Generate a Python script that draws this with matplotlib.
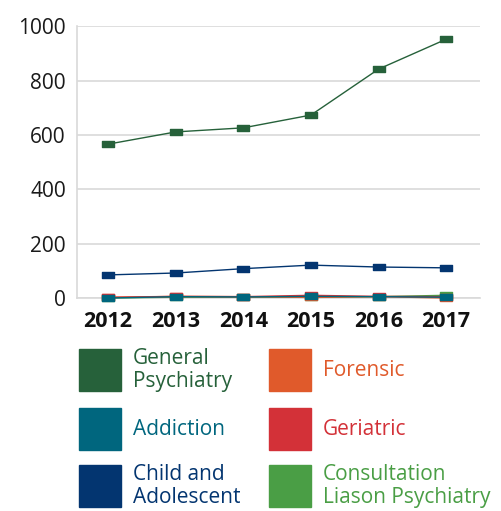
import numpy as np
import matplotlib
matplotlib.use('Agg')
import matplotlib.pyplot as plt
from matplotlib.path import Path
from matplotlib.patches import Rectangle

plt.rcParams['font.family'] = ['Open Sans', 'DejaVu Sans']

years = ['2012', '2013', '2014', '2015', '2016', '2017']
general = [566, 611, 626, 673, 842, 952]
child = [85, 92, 108, 121, 114, 111]
forensic = [3, 6, 5, 2, 5, 0]
geriatric = [2, 6, 5, 10, 6, 5]
consultation = [0, 3, 3, 3, 5, 10]
addiction = [0, 5, 4, 6, 5, 3]

colors = {
    'general': '#26613a',
    'forensic': '#e05a2b',
    'addiction': '#00667e',
    'geriatric': '#d33138',
    'child': '#033570',
    'consultation': '#4a9e45',
}

# wide rectangular marker
rect = Path([(-1, -0.55), (1, -0.55), (1, 0.55), (-1, 0.55), (-1, -0.55)],
            [Path.MOVETO, Path.LINETO, Path.LINETO, Path.LINETO, Path.CLOSEPOLY])

fig = plt.figure(figsize=(5.02, 5.11), dpi=100)
ax = fig.add_axes([0.1534, 0.4168, 0.8027, 0.532])
x = np.arange(len(years))

series = [
    (general, 'general'),
    (child, 'child'),
    (consultation, 'consultation'),
    (forensic, 'forensic'),
    (geriatric, 'geriatric'),
    (addiction, 'addiction'),
]
for vals, key in series:
    ax.plot(x, vals, color=colors[key], lw=1.0, marker=rect, ms=8.2,
            mec=colors[key], mfc=colors[key], clip_on=False, zorder=3)

ax.set_xlim(-0.46, 5.5)
ax.set_ylim(0, 1000)
ax.set_yticks([0, 200, 400, 600, 800, 1000])
ax.set_xticks(x)
ax.set_xticklabels(years, fontsize=15.5, fontweight='bold')
ax.tick_params(axis='y', length=0, pad=8, labelsize=15, labelcolor='#1a1a1a')
ax.tick_params(axis='x', length=0, pad=9, labelcolor='#111111')
ax.yaxis.grid(True, color='#d9d9d9', lw=1.2)
ax.set_axisbelow(True)
for s in ['top', 'right']:
    ax.spines[s].set_visible(False)
ax.spines['left'].set_color('#d9d9d9')
ax.spines['bottom'].set_color('#d9d9d9')
ax.spines['left'].set_linewidth(1.2)
ax.spines['bottom'].set_linewidth(1.2)

# legend drawn by hand
W, H = 502.0, 511.0
legend = [
    ('General\nPsychiatry', 'general', 79, 349),
    ('Forensic', 'forensic', 269, 349),
    ('Addiction', 'addiction', 79, 408),
    ('Geriatric', 'geriatric', 269, 408),
    ('Child and\nAdolescent', 'child', 79, 465),
    ('Consultation\nLiason Psychiatry', 'consultation', 269, 465),
]
for label, key, px, py in legend:
    fig.add_artist(Rectangle((px / W, 1 - (py + 42) / H), 42 / W, 42 / H,
                             transform=fig.transFigure, color=colors[key]))
    fig.text((px + 54) / W, 1 - (py + 21) / H, label, color=colors[key],
             fontsize=15, va='center', ha='left', linespacing=1.1)

fig.savefig('out.png', dpi=100)
